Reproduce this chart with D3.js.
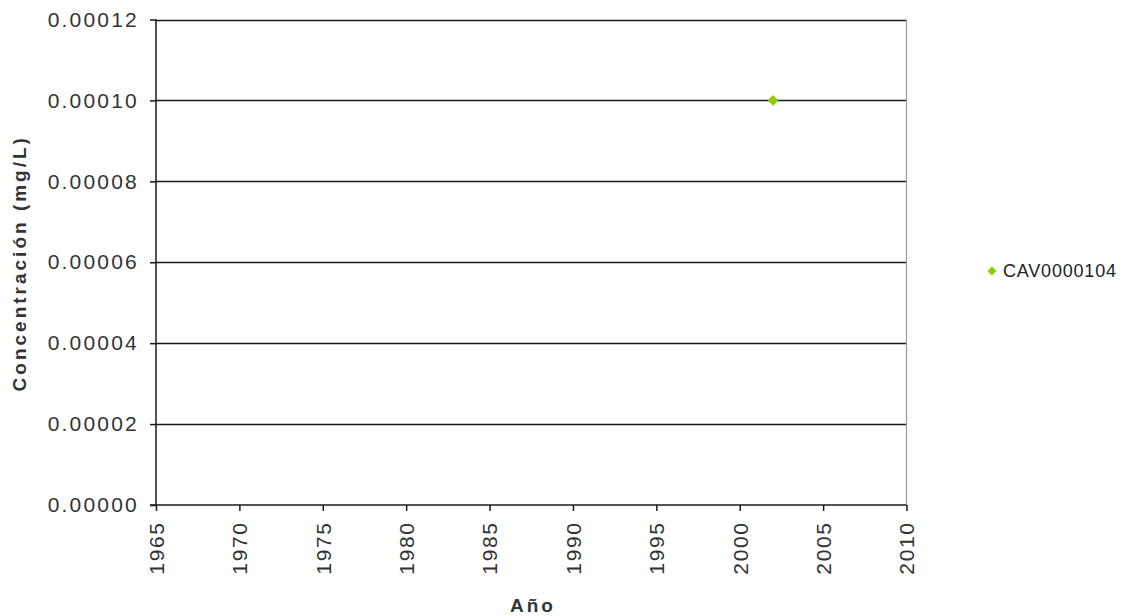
<!DOCTYPE html>
<html>
<head>
<meta charset="utf-8">
<script src="https://cdn.jsdelivr.net/npm/d3@7"></script>
<style>
  html, body { margin: 0; padding: 0; background: #fff; }
  svg { display: block; font-family: "Liberation Sans", Arial, sans-serif; }
</style>
</head>
<body>
<svg id="chart" width="1122" height="616"></svg>
<script>
// Series: sampling station and its measured concentrations
const seriesName = "CAV0000104";
const years = [2002];
const concentrations = [0.0001];

// Axis settings
const xDomain = [1965, 2010];
const xTicks = [1965, 1970, 1975, 1980, 1985, 1990, 1995, 2000, 2005, 2010];
const yDomain = [0, 0.00012];
const yTicks = [0, 0.00002, 0.00004, 0.00006, 0.00008, 0.0001, 0.00012];

const svg = d3.select("#chart");
const plot = { left: 156, top: 19.5, right: 906.5, bottom: 505 };
const ink = "#1a1a1a";
const textInk = "#333";
const pointColor = "#8ccc00";

const x = d3.scaleLinear().domain(xDomain).range([plot.left, plot.right]);
const y = d3.scaleLinear().domain(yDomain).range([plot.bottom, plot.top]);

// Horizontal gridlines
svg.append("g")
  .selectAll("line")
  .data(yTicks.slice(1))
  .join("line")
  .attr("x1", plot.left).attr("x2", plot.right)
  .attr("y1", d => Math.round(y(d)) + 0.5).attr("y2", d => Math.round(y(d)) + 0.5)
  .attr("stroke", ink).attr("stroke-width", 1.5);

// Right border of plot area
svg.append("line")
  .attr("x1", plot.right).attr("x2", plot.right)
  .attr("y1", plot.top).attr("y2", plot.bottom)
  .attr("stroke", "#999").attr("stroke-width", 1.2);

// Y axis
const yAxis = d3.axisLeft(y)
  .tickValues(yTicks)
  .tickFormat(d3.format(".5f"))
  .tickSize(6)
  .tickPadding(11);
const gy = svg.append("g")
  .attr("transform", `translate(${plot.left},0)`)
  .call(yAxis);
gy.select(".domain").attr("stroke", ink).attr("stroke-width", 1.5).attr("d", `M0,${plot.top}V${plot.bottom}`);
gy.selectAll(".tick line").attr("stroke", ink).attr("stroke-width", 1.5);
gy.selectAll(".tick text")
  .attr("font-size", 21).attr("letter-spacing", "2.2px").attr("fill", textInk)
  .attr("font-family", "'Liberation Sans', Arial, sans-serif");

// X axis
const xAxis = d3.axisBottom(x)
  .tickValues(xTicks)
  .tickFormat(d3.format("d"))
  .tickSize(6);
const gx = svg.append("g")
  .attr("transform", `translate(0,${plot.bottom})`)
  .call(xAxis);
gx.select(".domain").attr("stroke", ink).attr("stroke-width", 1.5).attr("d", `M${plot.left - 6},0H${plot.right}`);
gx.selectAll(".tick line").attr("stroke", ink).attr("stroke-width", 1.5);
gx.selectAll(".tick text")
  .attr("font-size", 21).attr("letter-spacing", "1.6px").attr("fill", textInk)
  .attr("font-family", "'Liberation Sans', Arial, sans-serif")
  .attr("text-anchor", "end")
  .attr("dy", "0.35em")
  .attr("transform", "translate(0,16.5) rotate(-90)")
  .attr("x", 0).attr("y", 0);

// Axis titles
svg.append("text")
  .attr("x", 533).attr("y", 612)
  .attr("text-anchor", "middle")
  .attr("font-size", 19).attr("font-weight", "bold").attr("letter-spacing", "3px").attr("fill", textInk)
  .text("Año");

svg.append("text")
  .attr("transform", `translate(26,${(plot.top + plot.bottom) / 2 + 1}) rotate(-90)`)
  .attr("text-anchor", "middle")
  .attr("font-size", 19).attr("font-weight", "bold").attr("letter-spacing", "3px").attr("fill", textInk)
  .text("Concentración (mg/L)");

// Data points
const diamond = d3.symbol().type(d3.symbolDiamond2).size(72);
svg.append("g")
  .selectAll("path")
  .data(years.map((yr, i) => ({ yr, v: concentrations[i] })))
  .join("path")
  .attr("d", diamond)
  .attr("transform", d => `translate(${x(d.yr)},${y(d.v)})`)
  .attr("fill", pointColor);

// Legend
const legend = svg.append("g").attr("transform", "translate(992,271)");
legend.append("path")
  .attr("d", d3.symbol().type(d3.symbolDiamond2).size(50))
  .attr("fill", pointColor);
legend.append("text")
  .attr("x", 11).attr("y", 0).attr("dy", "0.35em")
  .attr("font-size", 18).attr("letter-spacing", "0.8px").attr("fill", "#222")
  .text(seriesName);
</script>
</body>
</html>
